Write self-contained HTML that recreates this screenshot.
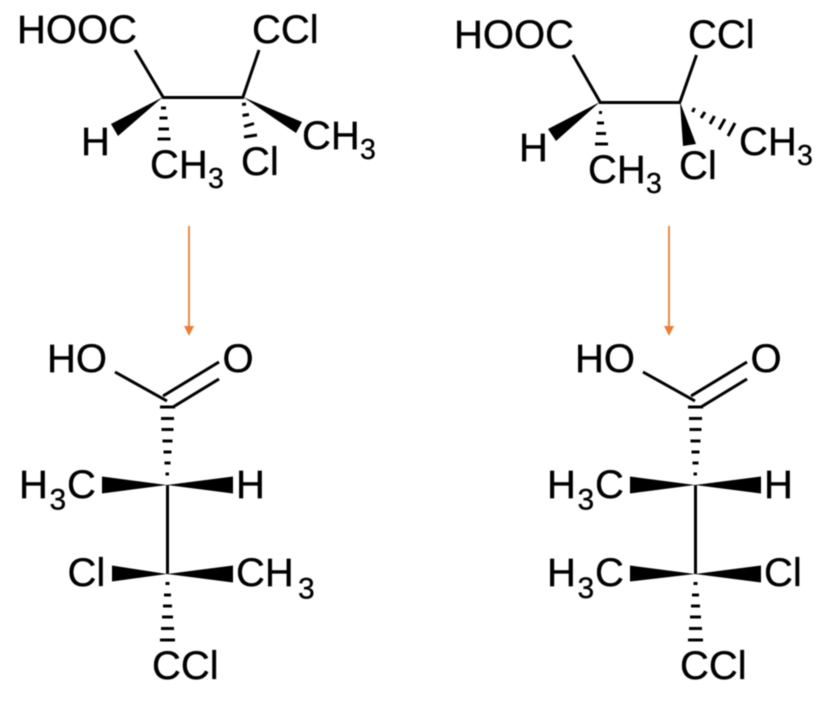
<!DOCTYPE html>
<html>
<head>
<meta charset="utf-8">
<style>
html,body{margin:0;padding:0;background:#fff;width:821px;height:701px;overflow:hidden}
svg{display:block;filter:blur(.4px)}
text{font-family:"Liberation Sans",sans-serif;font-size:40px;fill:#000;stroke:#000;stroke-width:.35px}
text.s{font-size:28.5px}
text.b{font-size:30px}
line{stroke:#000;stroke-width:3;fill:none}
line.h{stroke-width:3}
polygon{fill:#000}
</style>
</head>
<body>
<svg width="821" height="701" viewBox="0 0 821 701" xmlns="http://www.w3.org/2000/svg">
<!-- top-left -->
<line x1="135" y1="50" x2="163" y2="97"/>
<line x1="162" y1="97.500" x2="244" y2="97.500"/>
<line x1="243" y1="97" x2="259" y2="50"/>
<polygon points="163,97 111,124 118,136"/>
<polygon points="243,97 302,122 296,133"/>
<line class="h" x1="161" y1="108" x2="166" y2="108"/>
<line class="h" x1="159.500" y1="118" x2="167.500" y2="118"/>
<line class="h" x1="158.500" y1="129" x2="169" y2="129"/>
<line class="h" x1="157.500" y1="139" x2="170.500" y2="139"/>
<line class="h" x1="242" y1="104.500" x2="246" y2="104"/>
<line class="h" x1="242.500" y1="115.500" x2="249" y2="114.500"/>
<line class="h" x1="244" y1="126.500" x2="254" y2="123.500"/>
<line class="h" x1="244" y1="137" x2="257" y2="135"/>
<text x="17" y="43">HOOC</text>
<text x="252" y="43">CCl</text>
<text x="81" y="155">H</text>
<text x="150" y="178">CH</text>
<text class="s" x="208" y="188">3</text>
<text x="241" y="175">Cl</text>
<text x="302" y="149">CH</text>
<text class="s" x="360" y="159">3</text>

<!-- top-right -->
<line x1="573" y1="55" x2="600" y2="102"/>
<line x1="599" y1="102.500" x2="681" y2="102.500"/>
<line x1="680" y1="102" x2="696.500" y2="55"/>
<polygon points="600,102 548,129 556,141"/>
<polygon points="680,102 683,146 696,144"/>
<line class="h" x1="599" y1="112.500" x2="602" y2="112.500"/>
<line class="h" x1="597" y1="123" x2="604" y2="123"/>
<line class="h" x1="596" y1="133.500" x2="606" y2="133.500"/>
<line class="h" x1="595" y1="144" x2="608" y2="144"/>
<line class="h" x1="692.500" y1="112" x2="694.500" y2="108"/>
<line class="h" x1="701" y1="118" x2="705" y2="112"/>
<line class="h" x1="710" y1="124" x2="714.500" y2="116"/>
<line class="h" x1="719" y1="129.500" x2="725" y2="119"/>
<line class="h" x1="728" y1="136" x2="735" y2="123"/>
<text x="454" y="48">HOOC</text>
<text x="688" y="48">CCl</text>
<text x="519" y="161">H</text>
<text x="588" y="183">CH</text>
<text class="s" x="646" y="193">3</text>
<text x="679" y="179">Cl</text>
<text x="739" y="155">CH</text>
<text class="s" x="797" y="165">3</text>

<!-- arrows -->
<line x1="189" y1="226" x2="189" y2="328" style="stroke:#ED7D31;stroke-width:1.800"/>
<polygon points="184,326 194,326 189,336" style="fill:#ED7D31"/>
<line x1="669" y1="226" x2="669" y2="328" style="stroke:#ED7D31;stroke-width:1.800"/>
<polygon points="664,326 674,326 669,336" style="fill:#ED7D31"/>

<!-- bottom-left -->
<g>
<line x1="115" y1="372" x2="167" y2="401"/>
<line x1="163" y1="396" x2="219" y2="362"/>
<line x1="173" y1="407" x2="219" y2="379"/>
<line x1="167.500" y1="485" x2="167.500" y2="574"/>
<polygon points="167,485 102,476.500 102,493.500"/>
<polygon points="167,485 233,476.500 233,493.500"/>
<polygon points="167,574 112,565.500 112,581.500"/>
<polygon points="167,574 233,565.500 233,582.500"/>
<line class="h" x1="160" y1="407" x2="175" y2="407"/>
<line class="h" x1="161" y1="418.500" x2="174" y2="418.500"/>
<line class="h" x1="161.500" y1="429.500" x2="173.500" y2="429.500"/>
<line class="h" x1="162.500" y1="441" x2="172.500" y2="441"/>
<line class="h" x1="163.500" y1="452" x2="171.500" y2="452"/>
<line class="h" x1="164.500" y1="463" x2="170.500" y2="463"/>
<line class="h" x1="165.500" y1="474" x2="169" y2="474"/>
<line class="h" x1="165.500" y1="583.500" x2="169.500" y2="583.500"/>
<line class="h" x1="164" y1="595" x2="171" y2="595"/>
<line class="h" x1="163" y1="606" x2="172" y2="606"/>
<line class="h" x1="162" y1="617" x2="173" y2="617"/>
<line class="h" x1="161" y1="628.500" x2="174" y2="628.500"/>
<line class="h" x1="160" y1="640" x2="175" y2="640"/>
<text x="47" y="372">HO</text>
<text x="222.500" y="372">O</text>
<text x="19" y="498">H</text>
<text class="b" x="49.500" y="509.500">3</text>
<text x="67" y="498">C</text>
<text x="236" y="498">H</text>
<text x="67.500" y="586">Cl</text>
<text x="236" y="586">CH</text>
<text class="b" x="298" y="598.500">3</text>
<text x="152" y="679">CCl</text>
</g>

<!-- bottom-right -->
<g transform="translate(528 0)">
<line x1="115" y1="372" x2="167" y2="401"/>
<line x1="163" y1="396" x2="219" y2="362"/>
<line x1="173" y1="407" x2="219" y2="379"/>
<line x1="167.500" y1="485" x2="167.500" y2="574"/>
<polygon points="167,485 102,476.500 102,493.500"/>
<polygon points="167,485 233,476.500 233,493.500"/>
<polygon points="167,574 102,565.500 102,581.500"/>
<polygon points="167,574 233,565.500 233,582.500"/>
<line class="h" x1="160" y1="407" x2="175" y2="407"/>
<line class="h" x1="161" y1="418.500" x2="174" y2="418.500"/>
<line class="h" x1="161.500" y1="429.500" x2="173.500" y2="429.500"/>
<line class="h" x1="162.500" y1="441" x2="172.500" y2="441"/>
<line class="h" x1="163.500" y1="452" x2="171.500" y2="452"/>
<line class="h" x1="164.500" y1="463" x2="170.500" y2="463"/>
<line class="h" x1="165.500" y1="474" x2="169" y2="474"/>
<line class="h" x1="165.500" y1="583.500" x2="169.500" y2="583.500"/>
<line class="h" x1="164" y1="595" x2="171" y2="595"/>
<line class="h" x1="163" y1="606" x2="172" y2="606"/>
<line class="h" x1="162" y1="617" x2="173" y2="617"/>
<line class="h" x1="161" y1="628.500" x2="174" y2="628.500"/>
<line class="h" x1="160" y1="640" x2="175" y2="640"/>
<text x="47" y="372">HO</text>
<text x="222.500" y="372">O</text>
<text x="19" y="498">H</text>
<text class="b" x="49.500" y="509.500">3</text>
<text x="67" y="498">C</text>
<text x="236" y="498">H</text>
<text x="19" y="586">H</text>
<text class="b" x="49.500" y="598">3</text>
<text x="67" y="586">C</text>
<text x="236" y="586">Cl</text>
<text x="152" y="679">CCl</text>
</g>
</svg>
</body>
</html>
